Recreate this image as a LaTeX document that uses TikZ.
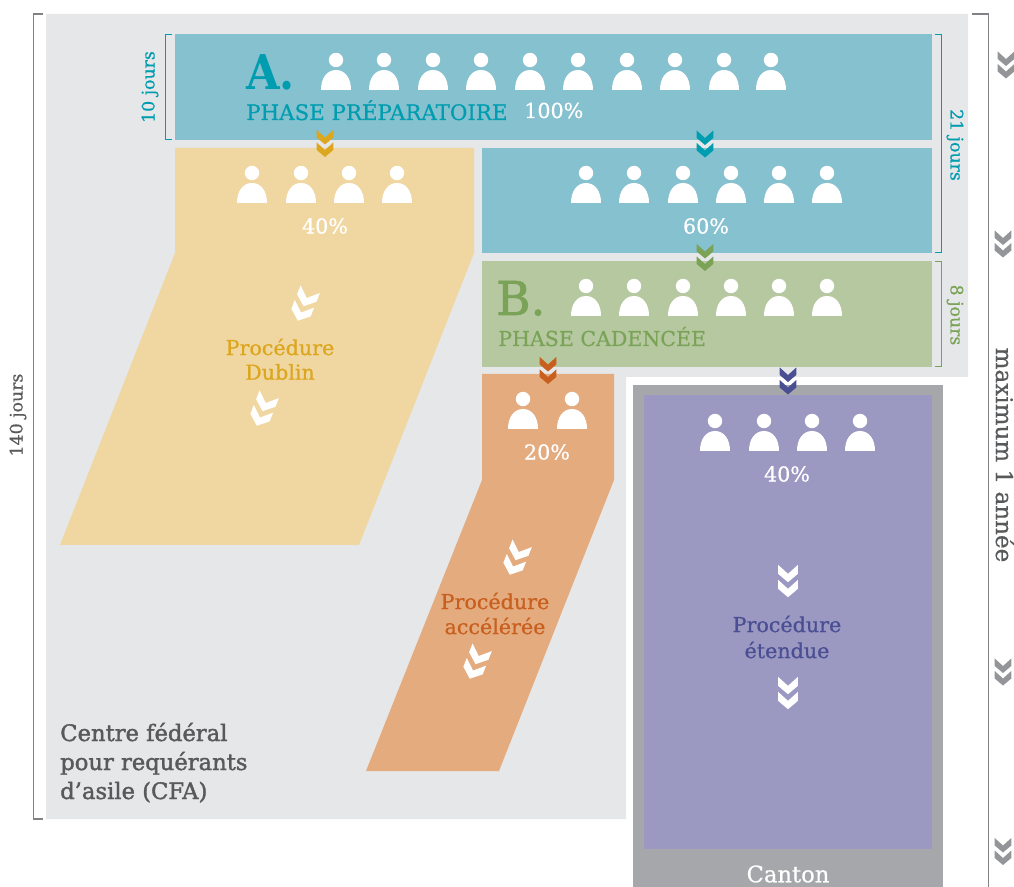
\documentclass[tikz,border=0pt]{standalone}
\usepackage{fontspec}
\setmainfont[FakeBold=0.6]{DejaVu Serif}
\newfontfamily\headfont{DejaVu Serif Condensed Bold}
\newfontfamily\strongfont[FakeBold=1.6]{DejaVu Serif}
\definecolor{bgG}{HTML}{E6E7E9}
\definecolor{tealF}{HTML}{86C1D0}
\definecolor{tealT}{HTML}{009DB0}
\definecolor{yelF}{HTML}{F0D7A1}
\definecolor{yelT}{HTML}{DCA71F}
\definecolor{grnF}{HTML}{B5C8A0}
\definecolor{grnT}{HTML}{7AA357}
\definecolor{orF}{HTML}{E4AB7F}
\definecolor{orT}{HTML}{C95F1E}
\definecolor{puF}{HTML}{9B98C2}
\definecolor{puT}{HTML}{4A4E92}
\definecolor{canG}{HTML}{A6A7AA}
\definecolor{chvG}{HTML}{939598}
\definecolor{txtG}{HTML}{58595B}
\definecolor{lineG}{HTML}{808285}
\tikzset{
  pics/person/.style={code={
    \fill[white] (0,-30) circle[radius=7.2];
    \fill[white] (-15,0) .. controls (-15,-12) and (-9,-20) .. (0,-20) .. controls (9,-20) and (15,-12) .. (15,0) -- cycle;
  }},
  pics/chev/.style={code={
    \foreach \d in {-13.5,-1}{
      \fill[#1] (-8.3,\d) -- (0,\d+7.5) -- (8.3,\d) -- (8.3,\d+7.5) -- (0,\d+14.5) -- (-8.3,\d+7.5) -- cycle;
    }
  }},
  brk/.style={line width=0.75pt},
  gbrk/.style={line width=1.05pt,lineG},
  lbl/.style={inner sep=0pt,font=\fontsize{15.5pt}{17pt}\selectfont},
  pct/.style={lbl,white},
  side/.style={inner sep=0pt,font=\fontsize{13pt}{15pt}\selectfont},
  cfa/.style={anchor=base west,inner sep=0pt,txtG,font=\strongfont\fontsize{17pt}{19pt}\selectfont},
}
\begin{document}
\begin{tikzpicture}[x=0.75pt,y=-0.75pt]
\useasboundingbox (0,0) rectangle (1014,887);
\clip (0,0) rectangle (1014,887);
% backgrounds
\fill[bgG] (46,14) -- (968,14) -- (968,377) -- (626,377) -- (626,819) -- (46,819) -- cycle;
\fill[canG] (633,385) rectangle (943,887);
\fill[puF] (644,395) rectangle (932,849);
\fill[tealF] (175,34) rectangle (932,140);
\fill[tealF] (482,148) rectangle (932,253);
\fill[grnF] (482,261) rectangle (932,367);
\fill[yelF] (175,148) -- (474,148) -- (474,253) -- (359,545) -- (60,545) -- (175,253) -- cycle;
\fill[orF] (482,374) -- (614,374) -- (614,480) -- (499,771) -- (366,771) -- (482,480) -- cycle;
% brackets
\draw[gbrk] (43,14) -- (33.5,14) -- (33.5,819) -- (43,819);
\draw[gbrk] (972,14) -- (988.5,14) -- (988.5,887);
\draw[tealT,brk] (172,34.5) -- (165.5,34.5) -- (165.5,140) -- (172,140);
\draw[tealT,brk] (935,34.5) -- (941.5,34.5) -- (941.5,253) -- (935,253);
\draw[grnT,brk] (935,261.5) -- (941.5,261.5) -- (941.5,366.5) -- (935,366.5);
% people
\foreach \x in {336,384,433,481,530,578,627,675,724,771} \pic at (\x,90) {person};
\foreach \x in {252,301,349,397} \pic at (\x,203) {person};
\foreach \x in {586,634,683,731,779,827} \pic at (\x,203) {person};
\foreach \x in {586,634,683,731,779,827} \pic at (\x,316) {person};
\foreach \x in {523,572} \pic at (\x,429) {person};
\foreach \x in {715,764,812,860} \pic at (\x,451) {person};
% colored chevrons
\pic at (325,143.5) {chev=yelT};
\pic at (705,144) {chev=tealT};
\pic at (705,257.5) {chev=grnT};
\pic at (548,370.5) {chev=orT};
\pic at (788,381) {chev=puT};
% white chevrons
\pic[rotate=-21.5,scale=1.25] at (304,305) {chev=white};
\pic[rotate=-21.5,scale=1.25] at (263,410) {chev=white};
\pic[rotate=-21.5,scale=1.25] at (516,559) {chev=white};
\pic[rotate=-21.5,scale=1.25] at (476,663) {chev=white};
\pic[scale=1.2] at (788,581) {chev=white};
\pic[scale=1.2] at (788,693) {chev=white};
% grey chevrons
\pic at (1006,65) {chev=chvG};
\pic at (1003,244) {chev=chvG};
\pic at (1003,672) {chev=chvG};
\pic at (1003,851.5) {chev=chvG};
% texts
\node[anchor=base west,inner sep=0pt,tealT,font=\headfont\fontsize{36pt}{38pt}\selectfont] (a) at (246,90) {A.};
\node[anchor=base west,inner sep=0pt,tealT,font=\fontsize{16pt}{18pt}\selectfont] (pa) at (246,120) {PHASE PRÉPARATOIRE};
\node[pct,anchor=base west] (p100) at (524,118) {100\%};
\node[pct] (p40a) at (325,226) {40\%};
\node[pct] (p60) at (706,226) {60\%};
\node[anchor=base west,inner sep=0pt,grnT,font=\strongfont\fontsize{35pt}{38pt}\selectfont] (b) at (496,315) {B.};
\node[anchor=base west,inner sep=0pt,grnT,font=\fontsize{15.4pt}{17pt}\selectfont] (pb) at (498,346) {PHASE CADENCÉE};
\node[lbl,yelT] (d1) at (280,347) {Procédure};
\node[lbl,yelT] (d2) at (280,372) {Dublin};
\node[pct] (p20) at (547,452) {20\%};
\node[pct] (p40b) at (787,474) {40\%};
\node[lbl,orT] (o1) at (495,601) {Procédure};
\node[lbl,orT] (o2) at (495,626) {accélérée};
\node[lbl,puT] (e1) at (787,624) {Procédure};
\node[lbl,puT] (e2) at (787,650) {étendue};
\node[cfa] (c1) at (60,741) {Centre fédéral};
\node[cfa] (c2) at (60,770) {pour requérants};
\node[cfa] (c3) at (60,799) {d’asile (CFA)};
\node[lbl,white,font=\fontsize{17pt}{19pt}\selectfont] (can) at (788,874) {Canton};
\node[side,txtG,rotate=90] (j140) at (18,415) {140 jours};
\node[side,tealT,rotate=90] (j10) at (150,87) {10 jours};
\node[side,tealT,rotate=-90] (j21) at (955,145) {21 jours};
\node[side,grnT,rotate=-90] (j8) at (955,315) {8 jours};
\node[lbl,txtG,rotate=-90,font=\fontsize{17.3pt}{19pt}\selectfont] (max) at (1005,455) {maximum 1 année};
\end{tikzpicture}
\end{document}
